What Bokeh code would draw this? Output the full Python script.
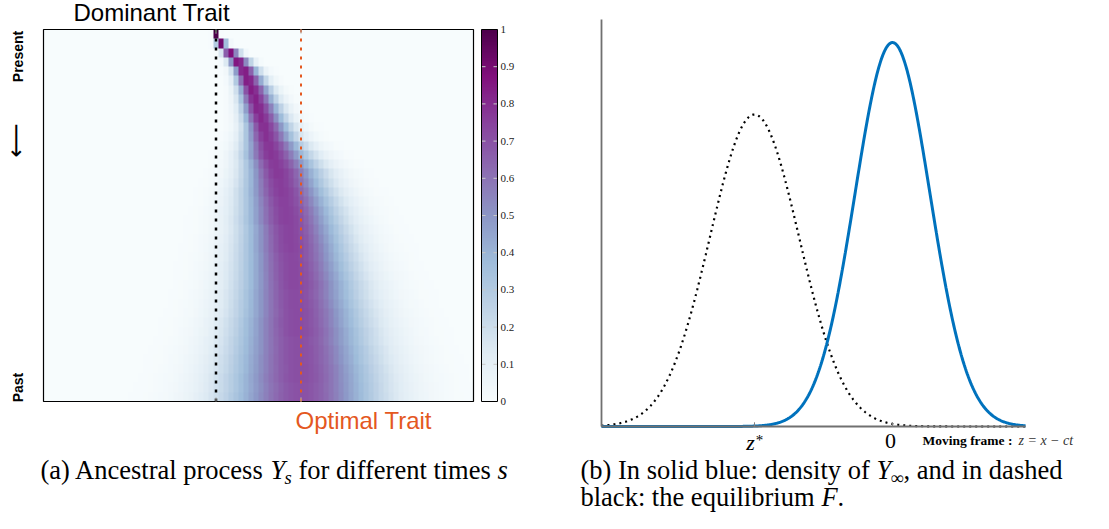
import numpy as np
from bokeh.plotting import figure
from bokeh.models import Range1d, LinearColorMapper, Label
from bokeh.embed import file_html
from bokeh.resources import INLINE

# ---------------- data: panel (a) ancestral process ----------------
n_cols = 86                      # trait grid cells
dominant_trait = 0.0
optimal_trait = 1.0
trait_step = 1.0 / 17
trait_grid = dominant_trait + (np.arange(n_cols) - 34) * trait_step

# one entry per time row, from Present (top) to Past (bottom)
row_center = [0.0, 0.053, 0.159, 0.253, 0.324, 0.371, 0.418, 0.453, 0.488, 0.524,
              0.559, 0.582, 0.618, 0.641, 0.688, 0.724, 0.747, 0.771, 0.794, 0.818,
              0.829, 0.853, 0.865, 0.876, 0.888, 0.900, 0.912, 0.924, 0.924, 0.935,
              0.947, 0.947, 0.959, 0.959, 0.971, 0.971, 0.982, 0.982, 0.994, 0.994]
row_sd_left = [0.018, 0.035, 0.053, 0.071, 0.082, 0.094, 0.106, 0.118, 0.129, 0.141,
               0.153, 0.171, 0.200, 0.224, 0.247, 0.271, 0.294, 0.318, 0.335, 0.353,
               0.365, 0.376, 0.388, 0.400, 0.412, 0.424, 0.435, 0.447, 0.459, 0.471,
               0.485, 0.500, 0.515, 0.530, 0.545, 0.560, 0.575, 0.590, 0.605, 0.620]
row_sd_right = [0.018, 0.047, 0.076, 0.100, 0.118, 0.135, 0.153, 0.165, 0.182, 0.194,
                0.212, 0.235, 0.271, 0.306, 0.329, 0.353, 0.365, 0.382, 0.400, 0.412,
                0.424, 0.435, 0.447, 0.459, 0.471, 0.482, 0.494, 0.506, 0.518, 0.529,
                0.541, 0.553, 0.565, 0.576, 0.588, 0.600, 0.612, 0.624, 0.629, 0.635]
row_peak = [1.00, 0.92, 0.90, 0.88, 0.86, 0.85, 0.84, 0.83, 0.82, 0.81,
            0.80, 0.79, 0.78, 0.78, 0.77, 0.77, 0.76, 0.76, 0.75, 0.75,
            0.75, 0.74, 0.74, 0.74, 0.73, 0.73, 0.73, 0.73, 0.72, 0.72,
            0.72, 0.72, 0.72, 0.71, 0.71, 0.71, 0.71, 0.71, 0.70, 0.70]
colorbar_ticks = [0, 0.1, 0.2, 0.3, 0.4, 0.5, 0.6, 0.7, 0.8, 0.9, 1]
colorbar_labels = ["0", "0.1", "0.2", "0.3", "0.4", "0.5", "0.6", "0.7", "0.8", "0.9", "1"]

# ---------------- data: panel (b) moving frame ----------------
z_star = -3.0
curve_names = ["equilibrium F", "density of Y_inf"]
curve_center = [z_star, 0.0]
curve_sd = [0.97, 0.815]
curve_peak = [0.8125, 1.0]
z_ticks = [z_star, 0.0]
z_axis_range = [-6.326, 2.891]
density_axis_top = 1.06

# ---------------- heat map values ----------------
n_rows = len(row_center)
grid = np.zeros((n_rows, n_cols))
for i in range(n_rows):
    d = trait_grid - row_center[i]
    s = np.where(d < 0, row_sd_left[i], row_sd_right[i])
    grid[i] = row_peak[i] * np.exp(-0.5 * (d / s) ** 2)
img = grid[::-1]   # image rows go upward: past at the bottom

bupu = ['#f7fcfd', '#e0ecf4', '#bfd3e6', '#9ebcda', '#8c96c6',
        '#8c6bb1', '#88419d', '#810f7c', '#4d004b']


def interp_palette(cols, n):
    rgb = np.array([[int(c[k:k + 2], 16) for k in (1, 3, 5)] for c in cols], float)
    pos = np.linspace(0, 1, len(cols))
    out = []
    for tt in np.linspace(0, 1, n):
        r, g, b = (np.interp(tt, pos, rgb[:, j]) for j in range(3))
        out.append('#%02x%02x%02x' % (int(round(r)), int(round(g)), int(round(b))))
    return out


mapper = LinearColorMapper(palette=interp_palette(bupu, 256), low=0, high=1)

ORANGE = "#e4581f"
BLUE = "#0072BD"
SERIF = "Liberation Serif"
SANS = "Liberation Sans"

# ---------------- page layout (pixels) ----------------
W, H = 1093, 513
A_box = (43, 473, 29, 401)      # heat map frame: left, right, top, bottom
B_box = (601, 1025, 19, 426)    # density axes: left, right, top, bottom


def extend(d0, d1, p0, p1, q):
    return d0 + (q - p0) * (d1 - d0) / (p1 - p0)


x0 = trait_grid[0] - trait_step / 2
x1 = trait_grid[-1] + trait_step / 2
a_xr = Range1d(extend(x0, x1, A_box[0], A_box[1], 0), extend(x0, x1, A_box[0], A_box[1], W))
a_yr = Range1d(extend(0, n_rows, A_box[3], A_box[2], H), extend(0, n_rows, A_box[3], A_box[2], 0))
zl, zh = z_axis_range
b_xr = Range1d(extend(zl, zh, B_box[0], B_box[1], 0), extend(zl, zh, B_box[0], B_box[1], W))
b_yr = Range1d(extend(0, density_axis_top, B_box[3], B_box[2], H),
               extend(0, density_axis_top, B_box[3], B_box[2], 0))

p = figure(width=W, height=H, output_backend="svg", toolbar_location=None,
           x_range=a_xr, y_range=a_yr, x_axis_location=None, y_axis_location=None,
           min_border=0)
p.outline_line_color = None
p.grid.visible = False
p.background_fill_color = "white"
p.border_fill_color = "white"
p.extra_x_ranges = {"b": b_xr, "px": Range1d(0, W)}
p.extra_y_ranges = {"b": b_yr, "px": Range1d(H, 0)}

# ---------------- panel (a) ----------------
p.image(image=[img], x=x0, y=0, dw=x1 - x0, dh=n_rows, color_mapper=mapper)
p.quad(left=x0, right=x1, bottom=0, top=n_rows, fill_color=None,
       line_color="black", line_width=1.2)
traits = [dominant_trait, optimal_trait]
p.segment(x0=traits, y0=[0, 0], x1=traits, y1=[n_rows, n_rows],
          line_color=["black", ORANGE], line_width=[2.5, 2], line_dash="3 6")
tick_len = 0.45
p.segment(x0=traits * 2, y0=[n_rows, n_rows, 0, 0], x1=traits * 2,
          y1=[n_rows - tick_len, n_rows - tick_len, tick_len, tick_len],
          line_color="#b0b0b0", line_width=1)

# colour bar (drawn in pixel x, value -> row height y)
cb_left, cb_right = 481, 497
cb_img = np.linspace(0, 1, 256).reshape(256, 1)
p.image(image=[cb_img], x=cb_left, y=0, dw=cb_right - cb_left, dh=n_rows,
        color_mapper=mapper, x_range_name="px")
cb_y = [t * n_rows for t in colorbar_ticks]
inner = colorbar_ticks[1:-1]
iy = [t * n_rows for t in inner]
p.segment(x0=[cb_left] * len(iy), y0=iy, x1=[cb_left + 4] * len(iy), y1=iy,
          line_color="#c8c8c8", line_width=1, x_range_name="px")
p.segment(x0=[cb_right - 4] * len(iy), y0=iy, x1=[cb_right] * len(iy), y1=iy,
          line_color="#c8c8c8", line_width=1, x_range_name="px")
p.quad(left=cb_left, right=cb_right, bottom=0, top=n_rows, fill_color=None,
       line_color="black", line_width=1, x_range_name="px")
for yv, lbl in zip(cb_y, colorbar_labels):
    p.add_layout(Label(x=cb_right + 3, y=yv, text=lbl, x_range_name="px",
                       text_font=SERIF, text_font_size="11px", text_color="#222222",
                       text_baseline="middle", text_align="left"))

# ---------------- panel (b) ----------------
zx = np.linspace(zl, zh, 700)
styles = [dict(line_color="black", line_width=2.2, line_dash="2 4"),
          dict(line_color=BLUE, line_width=3)]
for c, s, a, st in zip(curve_center, curve_sd, curve_peak, styles):
    p.line(zx, a * np.exp(-0.5 * ((zx - c) / s) ** 2), x_range_name="b",
           y_range_name="b", **st)
p.segment(x0=[zl, zl], y0=[0, 0], x1=[zh, zl], y1=[0, density_axis_top],
          line_color="#707070", line_width=1.8, x_range_name="b", y_range_name="b")
p.segment(x0=z_ticks, y0=[0, 0], x1=z_ticks, y1=[0.011, 0.011],
          line_color="#808080", line_width=1, x_range_name="b", y_range_name="b")


# ---------------- texts (placed in page pixels) ----------------
def lab(x, base, text, size, font=SERIF, style="normal", color="black",
        align="left", angle=0.0, centre=None):
    # base: wanted baseline in page pixels; drawn with a middle anchor
    y = centre if centre is not None else base - 0.35 * size
    p.add_layout(Label(x=x, y=y, text=text, x_range_name="px", y_range_name="px",
                       text_font=font, text_font_size=f"{size}px",
                       text_font_style=style, text_color=color, text_align=align,
                       text_baseline="middle", angle=angle))


lab(73, 20, "Dominant Trait", 24, font=SANS)
lab(295, 428, "Optimal Trait", 24, font=SANS, color=ORANGE)
lab(17, None, "Present", 14, font=SANS, style="bold", align="center",
    angle=np.pi / 2, centre=56)
lab(15, None, "\u27f5", 24, font="DejaVu Sans", align="center",
    angle=np.pi / 2, centre=140)
lab(17, None, "Past", 14, font=SANS, style="bold", align="center",
    angle=np.pi / 2, centre=387)

lab(750, 450, "z", 22, style="italic", align="center")
lab(759, None, "*", 15, align="center", centre=439)
lab(890, None, "0", 22, align="center", centre=440)
lab(922, 445, "Moving frame :", 13.5, style="bold")
lab(1018, 445, "z = x \u2212 ct", 14, style="italic", color="#333333")

# caption (a)
CY1, CY2 = 479, 506
lab(40, CY1, "(a) Ancestral process", 26.5)
lab(270, CY1, "Y", 26.5, style="italic")
lab(284, CY1 + 5, "s", 18.5, style="italic")
lab(298, CY1, "for different times", 26.5)
lab(497, CY1, "s", 26.5, style="italic")

# caption (b)
lab(580, CY1, "(b) In solid blue: density of", 26.5)
lab(876, CY1, "Y", 26.5, style="italic")
lab(890, CY1 + 5, "\u221e", 18.5)
lab(903, CY1, ", and in dashed", 26.5)
lab(580, CY2, "black: the equilibrium", 26.5)
lab(821, CY2, "F", 26.5, style="italic")
lab(837, CY2, ".", 26.5)

open("out.html", "w").write(file_html(p, INLINE))
